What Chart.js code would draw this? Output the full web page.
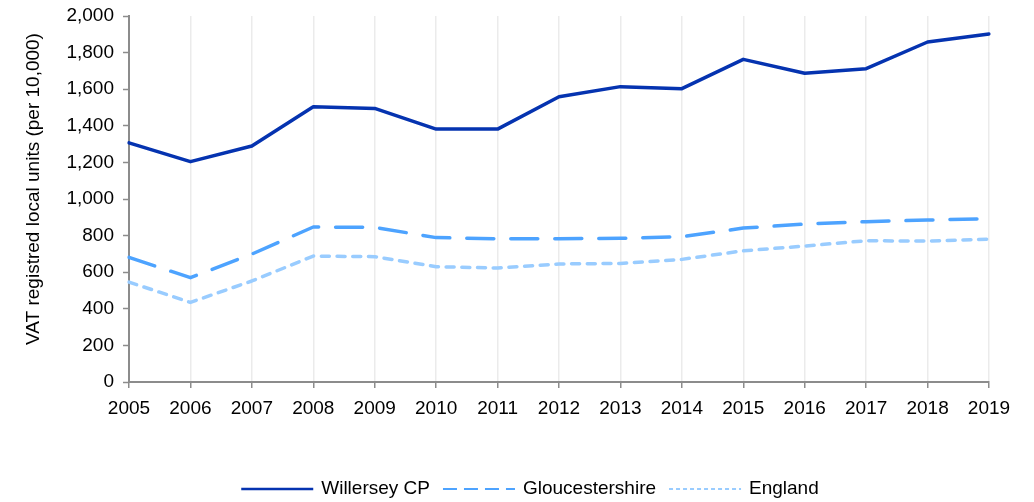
<!DOCTYPE html>
<html>
<head>
<meta charset="utf-8">
<script src="https://cdn.jsdelivr.net/npm/chart.js@4"></script>
<style>
  html, body { margin: 0; padding: 0; background: #ffffff; }
  #wrap { width: 1034px; height: 502px; }
</style>
</head>
<body>
<div id="wrap"><canvas id="c" width="1034" height="502"></canvas></div>
<script>
// VAT registered local units per 10,000 population
const years = ['2005','2006','2007','2008','2009','2010','2011','2012','2013','2014','2015','2016','2017','2018','2019'];
const willersey = [1307, 1204, 1290, 1504, 1495, 1382, 1382, 1559, 1614, 1603, 1763, 1687, 1712, 1858, 1902];
const gloucestershire = [681, 570, 699, 847, 845, 789, 783, 783, 785, 794, 841, 863, 876, 885, 892];
const england = [546, 435, 552, 688, 685, 630, 623, 645, 648, 670, 717, 743, 772, 770, 781];
const seriesNames = ['Willersey CP', 'Gloucestershire', 'England'];
const yAxisTitle = 'VAT registred local units (per 10,000)';
const yMin = 0, yMax = 2000, yStep = 200;

const FONT = '"Liberation Sans", Arial, sans-serif';
const FONT_SIZE = 19;
const AXIS_GREY = '#8c8c8c';

const legendStyles = [
  { color: '#0533b0', width: 2.5, dash: [] },
  { color: '#4da3ff', width: 2, dash: [14, 7] },
  { color: '#99ccff', width: 2, dash: [4, 3] }
];

// Legend drawn under the axis: a short line sample followed by the series name
const bottomLegend = {
  id: 'bottomLegend',
  afterDraw(chart) {
    const ctx = chart.ctx;
    ctx.save();
    ctx.font = FONT_SIZE + 'px ' + FONT;
    const sample = 72, gapText = 8, gapItem = 13;
    const widths = seriesNames.map(n => ctx.measureText(n).width);
    let total = 0;
    widths.forEach((w, i) => { total += sample + gapText + w + (i < widths.length - 1 ? gapItem : 0); });
    let x = 530 - total / 2;
    const y = 489;
    seriesNames.forEach((name, i) => {
      const st = legendStyles[i];
      ctx.beginPath();
      ctx.setLineDash(st.dash);
      ctx.lineWidth = st.width;
      ctx.strokeStyle = st.color;
      ctx.lineCap = 'butt';
      ctx.moveTo(x, y);
      ctx.lineTo(x + sample, y);
      ctx.stroke();
      ctx.setLineDash([]);
      x += sample + gapText;
      ctx.fillStyle = '#000000';
      ctx.textAlign = 'left';
      ctx.textBaseline = 'middle';
      ctx.fillText(name, x, y);
      x += widths[i] + gapItem;
    });
    ctx.restore();
  }
};

// Rotated title for the value axis
const yTitle = {
  id: 'yTitle',
  afterDraw(chart) {
    const ctx = chart.ctx;
    ctx.save();
    ctx.translate(34, 189);
    ctx.rotate(-Math.PI / 2);
    ctx.font = FONT_SIZE + 'px ' + FONT;
    ctx.fillStyle = '#000000';
    ctx.textAlign = 'center';
    ctx.textBaseline = 'middle';
    ctx.fillText(yAxisTitle, 0, 0);
    ctx.restore();
  }
};

new Chart(document.getElementById('c'), {
  type: 'line',
  data: {
    labels: years,
    datasets: [
      {
        label: seriesNames[0], data: willersey,
        borderColor: '#0533b0', borderWidth: 3.5,
        borderCapStyle: 'round', borderJoinStyle: 'round',
        pointRadius: 0, tension: 0, fill: false
      },
      {
        label: seriesNames[1], data: gloucestershire,
        borderColor: '#4da3ff', borderWidth: 3.5, borderDash: [27, 17],
        borderCapStyle: 'round', borderJoinStyle: 'round',
        pointRadius: 0, tension: 0, fill: false
      },
      {
        label: seriesNames[2], data: england,
        borderColor: '#99ccff', borderWidth: 3.5, borderDash: [8, 7.7],
        borderCapStyle: 'round', borderJoinStyle: 'round',
        pointRadius: 0, tension: 0, fill: false
      }
    ]
  },
  options: {
    responsive: false,
    animation: false,
    devicePixelRatio: 1,
    layout: { padding: { left: 0, right: 45, top: 16, bottom: 0 } },
    plugins: {
      legend: { display: false },
      tooltip: { enabled: false },
      title: { display: false }
    },
    scales: {
      x: {
        type: 'category',
        offset: false,
        grid: {
          color: '#ebebeb', lineWidth: 1.5,
          drawTicks: true, tickColor: AXIS_GREY, tickLength: 6, tickWidth: 1.5
        },
        border: { color: AXIS_GREY, width: 2 },
        ticks: {
          color: '#000000', font: { family: FONT, size: FONT_SIZE },
          padding: 9, maxRotation: 0, autoSkip: false
        },
        afterFit(scale) { scale.height = 120; }
      },
      y: {
        min: yMin, max: yMax,
        grid: {
          drawOnChartArea: false,
          drawTicks: true, tickColor: AXIS_GREY, tickLength: 6, tickWidth: 1.5
        },
        border: { color: AXIS_GREY, width: 2 },
        ticks: {
          stepSize: yStep,
          color: '#000000', font: { family: FONT, size: FONT_SIZE },
          padding: 9,
          callback: v => Number(v).toLocaleString('en-US')
        },
        afterFit(scale) {
          scale.width = 129;
          scale.paddingTop = 0;
          scale.paddingBottom = 0;
        }
      }
    }
  },
  plugins: [bottomLegend, yTitle]
});
</script>
</body>
</html>
